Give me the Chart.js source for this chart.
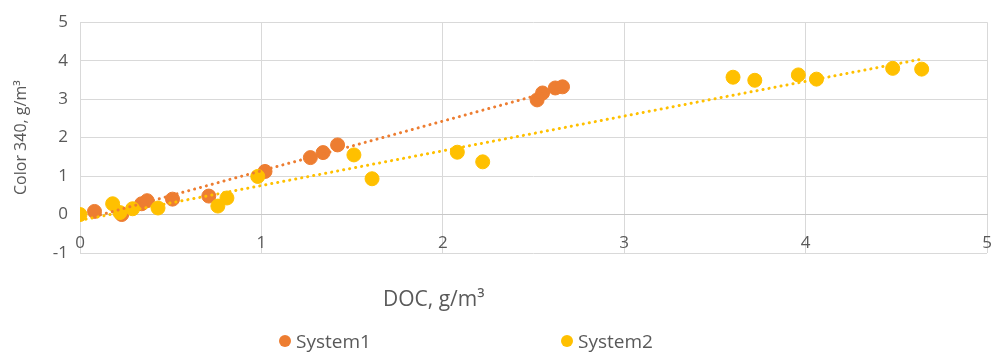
<!DOCTYPE html>
<html>
<head>
<meta charset="utf-8">
<script src="https://cdn.jsdelivr.net/npm/chart.js@4.4.1/dist/chart.umd.min.js"></script>
<style>
  body { margin: 0; background: #fff; }
  #wrap { position: relative; width: 992px; height: 352px; font-family: 'Open Sans', sans-serif; color: #595959; }
  #x-title { position: absolute; left: 383px; top: 284px; font-size: 21px; }
  .legend-item { position: absolute; top: 328px; display: flex; align-items: center; font-size: 19px; white-space: nowrap; }
  .legend-dot { width: 12px; height: 12px; border-radius: 50%; margin-right: 5px; }
</style>
</head>
<body>
<div id="wrap">
  <canvas id="chart" width="992" height="352"></canvas>
  <div id="x-title">DOC, g/m³</div>
</div>
<script>
// System1 measurements
const sys1X = [0.08, 0.23, 0.34, 0.37, 0.51, 0.71, 1.02, 1.27, 1.34, 1.42, 2.52, 2.55, 2.62, 2.66];
const sys1Y = [0.08, 0.00, 0.28, 0.36, 0.40, 0.48, 1.12, 1.48, 1.61, 1.81, 2.98, 3.16, 3.29, 3.32];

// System2 measurements
const sys2X = [0.00, 0.18, 0.22, 0.29, 0.43, 0.76, 0.81, 0.98, 1.51, 1.61, 2.08, 2.22, 3.60, 3.72, 3.96, 4.06, 4.48, 4.64];
const sys2Y = [0.00, 0.28, 0.05, 0.15, 0.17, 0.22, 0.43, 0.99, 1.55, 0.93, 1.62, 1.37, 3.57, 3.49, 3.63, 3.52, 3.80, 3.78];

// linear trendline end points
const trend1X = [0.08, 2.66];
const trend1Y = [-0.05, 3.28];
const trend2X = [0.00, 4.64];
const trend2Y = [-0.15, 4.04];

const xTicks = [0, 1, 2, 3, 4, 5];
const yTicks = [-1, 0, 1, 2, 3, 4, 5];

const ORANGE = '#ED7D31';
const GOLD = '#FFC000';
const TEXT = '#595959';
const GRID = '#d9d9d9';
const FONT = { family: "'Open Sans', sans-serif", size: 17 };

const toPoints = (xs, ys) => xs.map((x, i) => ({ x: x, y: ys[i] }));

function trendDataset(xs, ys, color) {
    return {
        label: 'trend',
        trend: true,
        data: toPoints(xs, ys),
        showLine: true,
        borderColor: color,
        borderWidth: 3,
        borderDash: [0.1, 6],
        borderCapStyle: 'round',
        pointRadius: 0,
        order: 0
    };
}

const datasets = [
    {
        label: 'System1',
        data: toPoints(sys1X, sys1Y),
        backgroundColor: ORANGE,
        borderColor: ORANGE,
        pointRadius: 7,
        order: 2
    },
    {
        label: 'System2',
        data: toPoints(sys2X, sys2Y),
        backgroundColor: GOLD,
        borderColor: GOLD,
        pointRadius: 7,
        order: 1
    },
    trendDataset(trend1X, trend1Y, ORANGE),
    trendDataset(trend2X, trend2Y, GOLD)
];

const chart = new Chart(document.getElementById('chart'), {
    type: 'scatter',
    data: { datasets },
    options: {
        responsive: false,
        animation: false,
        layout: { autoPadding: false, padding: { left: 10, right: 5, top: 18, bottom: 99 } },
        plugins: { legend: { display: false }, tooltip: { enabled: false } },
        scales: {
            x: {
                type: 'linear',
                min: xTicks[0],
                max: xTicks[xTicks.length - 1],
                ticks: { display: false, stepSize: 1 },
                grid: { color: GRID, drawTicks: false },
                border: { display: false }
            },
            // tick labels sit under the zero line; the hidden tick length
            // pushes them down without widening the side padding
            x2: {
                type: 'linear',
                axis: 'x',
                position: { y: 0 },
                min: xTicks[0],
                max: xTicks[xTicks.length - 1],
                ticks: { stepSize: 1, padding: 0, color: TEXT, font: FONT },
                grid: { display: false, drawTicks: true, tickLength: 18 },
                border: { display: true, color: '#c8c8c8' }
            },
            y: {
                min: yTicks[0],
                max: yTicks[yTicks.length - 1],
                ticks: { stepSize: 1, padding: 12, color: TEXT, font: FONT },
                grid: { color: GRID, drawTicks: false },
                border: { display: false },
                title: {
                    display: true,
                    text: 'Color 340, g/m³',
                    color: TEXT,
                    font: { family: FONT.family, size: 16 },
                    padding: { top: 2, bottom: 0 }
                },
                afterFit: scale => { scale.width = 70; }
            }
        }
    }
});

// legend, spaced out under the plot
const legendLeft = [279, 561];
const wrap = document.getElementById('wrap');
chart.data.datasets.filter(d => !d.trend).forEach((d, i) => {
    const item = document.createElement('div');
    item.className = 'legend-item';
    item.style.left = legendLeft[i] + 'px';
    item.innerHTML = `<span class="legend-dot" style="background:${d.backgroundColor}"></span>${d.label}`;
    wrap.appendChild(item);
});
</script>
</body>
</html>
